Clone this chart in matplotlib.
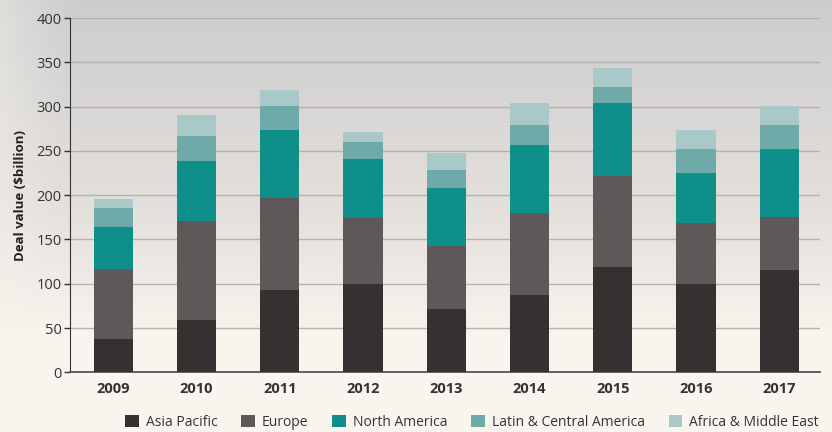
import numpy as np
import matplotlib.pyplot as plt
from matplotlib.patches import Patch
from matplotlib.colors import to_rgb

plt.rcParams['font.family'] = ['Open Sans', 'DejaVu Sans']

years = ['2009', '2010', '2011', '2012', '2013', '2014', '2015', '2016', '2017']
regions = ['Asia Pacific', 'Europe', 'North America',
           'Latin & Central America', 'Africa & Middle East']

# deal value by region, $billion
asia_pacific = [38, 59, 93, 100, 72, 87, 119, 100, 116]
europe = [79, 112, 104, 74, 71, 93, 103, 68, 59]
north_america = [47, 68, 76, 67, 65, 77, 82, 57, 77]
latin_america = [21, 28, 28, 19, 20, 22, 18, 27, 27]
africa_me = [11, 24, 18, 11, 20, 25, 22, 22, 22]

series = [asia_pacific, europe, north_america, latin_america, africa_me]
colors = ['#343130', '#5e5958', '#0e8f8a', '#6eaaa8', '#a9c8c8']

fig = plt.figure(figsize=(8.32, 4.32), dpi=100)

# soft grey-to-cream backdrop
bg = fig.add_axes([0, 0, 1, 1], zorder=-10)
h, w = 216, 416
yy = np.linspace(0, 1, h)[:, None, None]
xx = np.linspace(0, 1, w)[None, :, None]
top = np.array(to_rgb('#cdcdce'))
mid = np.array(to_rgb('#e4e0dc'))
bot = np.array(to_rgb('#fbf5ef'))
t1 = np.clip(yy / 0.5, 0, 1)
t2 = np.clip((yy - 0.5) / 0.3, 0, 1)
col = np.where(yy < 0.5, top * (1 - t1) + mid * t1, mid * (1 - t2) + bot * t2)
col = np.broadcast_to(col, (h, w, 3)).copy()
# lighter towards the left edge
left = (np.clip(1 - xx / 0.1, 0, 1) ** 1.5) * 0.45
col = col * (1 - left) + np.array(to_rgb('#f6f3ec')) * left
bg.imshow(col, aspect='auto', extent=[0, 1, 0, 1], origin='upper',
          interpolation='bilinear')
bg.axis('off')

ax = fig.add_axes([70 / 832, 59.7 / 432, 750 / 832, 354.3 / 432])
ax.patch.set_alpha(0)

x = np.arange(len(years))
bottom = np.zeros(len(years))
for vals, c, name in zip(series, colors, regions):
    ax.bar(x, vals, width=0.47, bottom=bottom, color=c, label=name, zorder=3)
    bottom += np.array(vals)

ax.set_xlim(-0.52, 8.49)
ax.set_ylim(0, 400)
ax.set_yticks(range(0, 401, 50))
ax.yaxis.grid(True, color='#b7b2ae', linewidth=1.0, zorder=0)
ax.set_axisbelow(True)

ax.set_xticks(x)
ax.set_xticklabels(years, fontsize=10.5, fontweight='bold', color='#333333')
ax.tick_params(axis='x', length=0, pad=7)
ax.tick_params(axis='y', length=4, width=1, color='#333333',
               labelsize=10.5, labelcolor='#333333', pad=2)

for s in ['top', 'right']:
    ax.spines[s].set_visible(False)
ax.spines['left'].set_color('#333333')
ax.spines['bottom'].set_color('#555555')
ax.spines['bottom'].set_linewidth(1.3)

ax.set_ylabel('Deal value ($billion)', fontsize=9.5, fontweight='bold',
              color='#222222', labelpad=7)

handles = [Patch(facecolor=c, label=n) for c, n in zip(colors, regions)]
fig.legend(handles=handles, loc='center', bbox_to_anchor=(472 / 832, 1 - 422 / 432),
           ncol=5, frameon=False, fontsize=10, handlelength=1.0, handleheight=1.0,
           handletextpad=0.5, columnspacing=1.7, labelcolor='#333333')

fig.savefig('out.png', dpi=100)
